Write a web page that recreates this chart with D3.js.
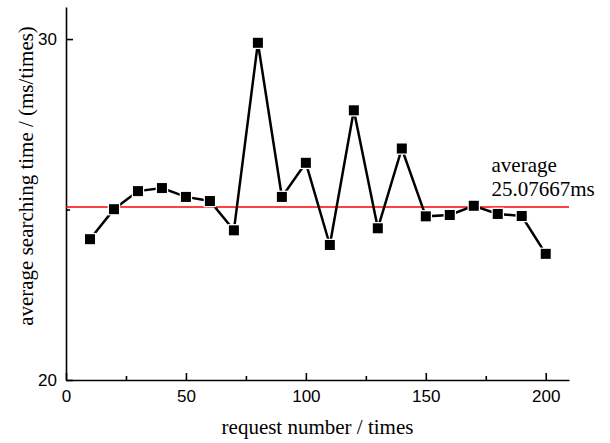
<!DOCTYPE html>
<html>
<head>
<meta charset="utf-8">
<script src="https://cdn.jsdelivr.net/npm/d3@7"></script>
<style>
  body { margin: 0; background: #fff; }
  svg { display: block; }
</style>
</head>
<body>
<div id="chart"></div>
<script>
// request number (x) and average searching time in ms (y)
const requests = [10, 20, 30, 40, 50, 60, 70, 80, 90, 100, 110, 120, 130, 140, 150, 160, 170, 180, 190, 200];
const searchTimes = [24.13, 25.01, 25.54, 25.63, 25.37, 25.25, 24.39, 29.89, 25.37, 26.37, 23.96, 27.91, 24.45, 26.79, 24.80, 24.84, 25.11, 24.87, 24.81, 23.70];
const average = 25.07667;
const xMajorTicks = [0, 50, 100, 150, 200];
const xMinorTicks = [25, 75, 125, 175];
const yMajorTicks = [20, 30];
const yMinorTicks = [25];

const width = 610;
const height = 443;
const marginTop = 7;
const marginRight = 41;
const marginBottom = 63;
const marginLeft = 66;

const data = requests.map((r, i) => ({ x: r, y: searchTimes[i] }));

const x = d3.scaleLinear()
    .domain([0, 209.7])
    .range([marginLeft, width - marginRight]);

const y = d3.scaleLinear()
    .domain([20, 30.94])
    .range([height - marginBottom, marginTop]);

const svg = d3.select("#chart")
    .append("svg")
    .attr("width", width)
    .attr("height", height);

const tickFont = "'Liberation Sans', Arial, sans-serif";
const titleFont = "'Liberation Serif', 'Times New Roman', serif";

// x axis, ticks pointing inward
const xAxis = svg.append("g")
    .attr("transform", `translate(0,${height - marginBottom})`)
    .call(d3.axisBottom(x).tickValues(xMajorTicks).tickSizeInner(-7).tickSizeOuter(0).tickPadding(10));
xAxis.selectAll(".tick text").attr("font-size", 17).attr("font-family", tickFont).attr("fill", "#000");

svg.append("g")
    .attr("transform", `translate(0,${height - marginBottom})`)
    .call(d3.axisBottom(x).tickValues(xMinorTicks).tickSizeInner(-4).tickSizeOuter(0).tickFormat(""))
    .call(g => g.select(".domain").remove());

const yAxis = svg.append("g")
    .attr("transform", `translate(${marginLeft},0)`)
    .call(d3.axisLeft(y).tickValues(yMajorTicks).tickSizeInner(-7).tickSizeOuter(0).tickPadding(9));
yAxis.selectAll(".tick text").attr("font-size", 17).attr("font-family", tickFont).attr("fill", "#000");

svg.append("g")
    .attr("transform", `translate(${marginLeft},0)`)
    .call(d3.axisLeft(y).tickValues(yMinorTicks).tickSizeInner(-4).tickSizeOuter(0).tickFormat(""))
    .call(g => g.select(".domain").remove());

svg.selectAll(".domain, .tick line").attr("stroke", "#000").attr("stroke-width", 1.6);

// average line
svg.append("line")
    .attr("x1", x(0))
    .attr("x2", x(209.7))
    .attr("y1", y(average))
    .attr("y2", y(average))
    .attr("stroke", "#ff0000")
    .attr("stroke-width", 1.5);

const line = d3.line()
    .x(d => x(d.x))
    .y(d => y(d.y));

svg.append("path")
    .datum(data)
    .attr("fill", "none")
    .attr("stroke", "#000")
    .attr("stroke-width", 2.5)
    .attr("d", line);

svg.selectAll(".marker")
    .data(data)
    .join("rect")
    .attr("class", "marker")
    .attr("x", d => x(d.x) - 5)
    .attr("y", d => y(d.y) - 5)
    .attr("width", 10)
    .attr("height", 10)
    .attr("fill", "#000")
    .attr("stroke", "#fff")
    .attr("stroke-width", 2.5)
    .attr("paint-order", "stroke");

// annotation
const note = svg.append("text")
    .attr("font-family", titleFont)
    .attr("font-size", 21)
    .attr("fill", "#000");
note.append("tspan").attr("x", x(177.4)).attr("y", y(average) - 35).text("average");
note.append("tspan").attr("x", x(177.4)).attr("y", y(average) - 11).text(average + "ms");

// axis titles
svg.append("text")
    .attr("x", (x(0) + x(209.7)) / 2)
    .attr("y", 434)
    .attr("text-anchor", "middle")
    .attr("font-family", titleFont)
    .attr("font-size", 21)
    .text("request number / times");

svg.append("text")
    .attr("transform", `translate(33,176) rotate(-90)`)
    .attr("text-anchor", "middle")
    .attr("font-family", titleFont)
    .attr("font-size", 21)
    .text("average searching time / (ms/times)");
</script>
</body>
</html>
